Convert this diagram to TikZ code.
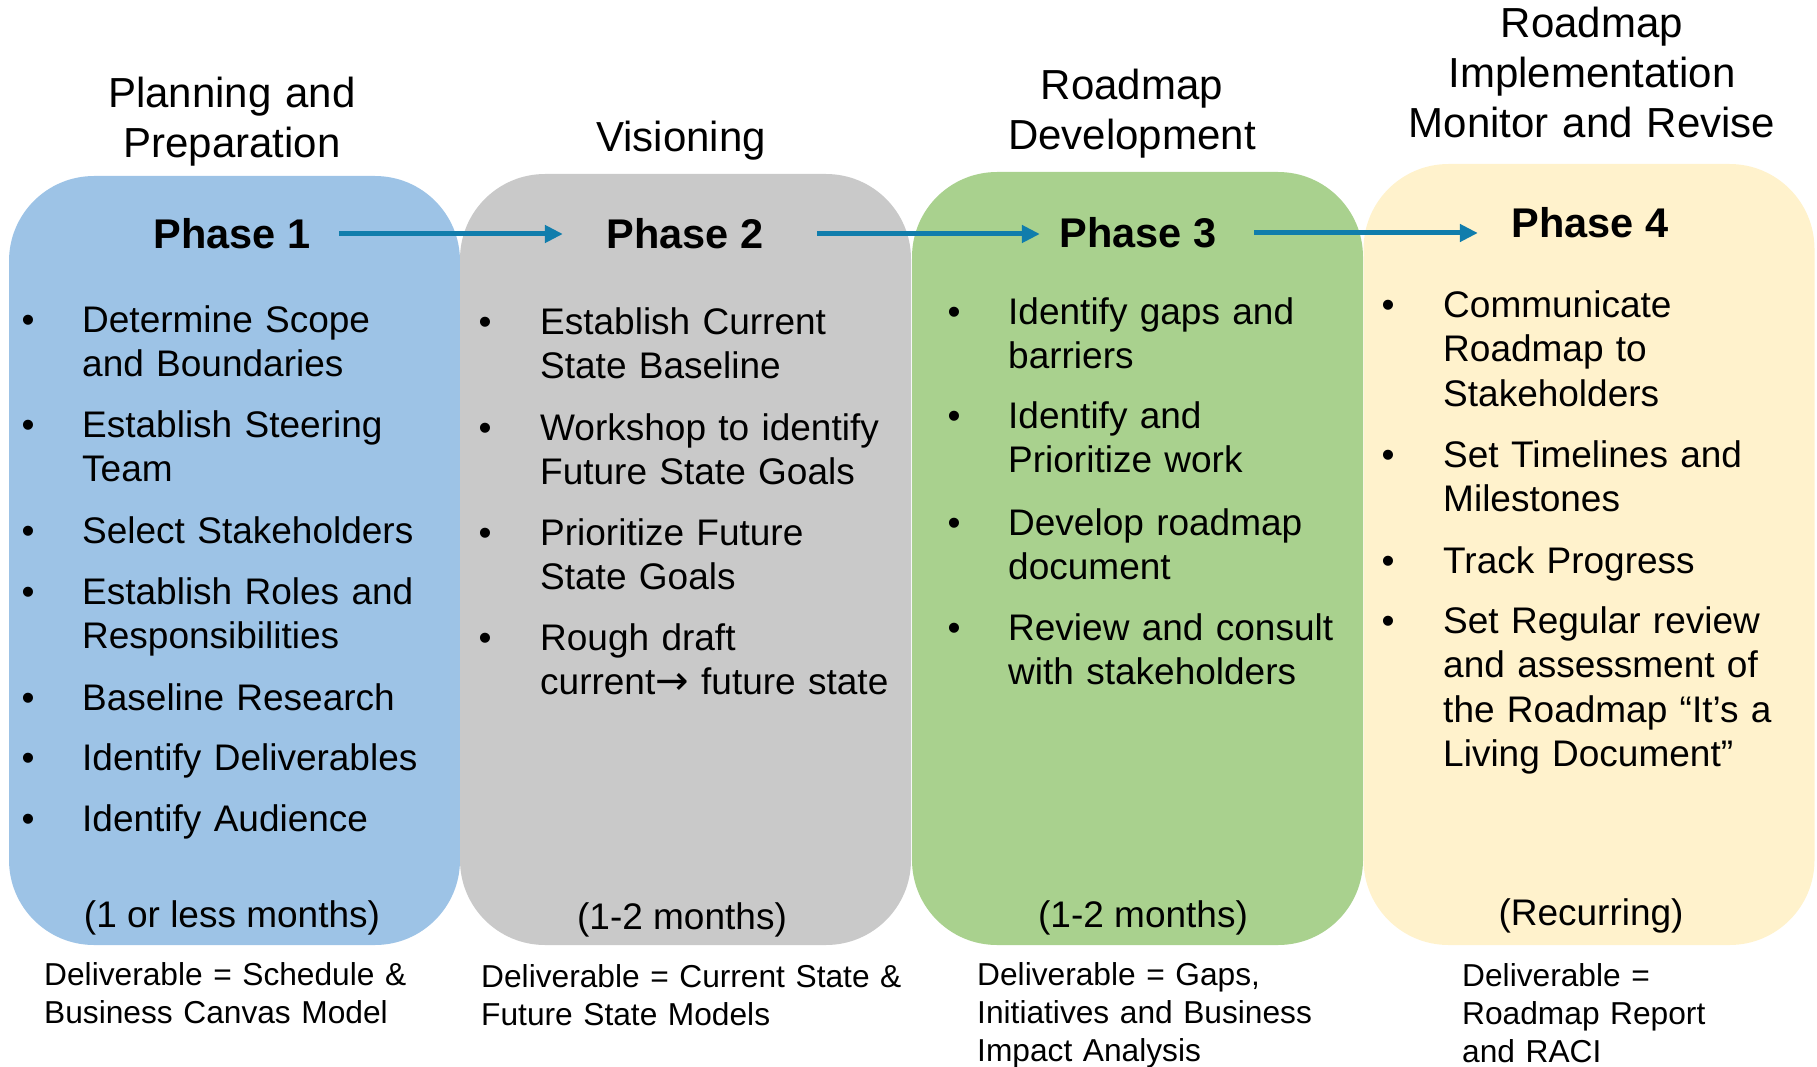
\documentclass[tikz,border=0pt]{standalone}
\usepackage{fontspec}
\setmainfont{Liberation Sans}
\newfontfamily\arrowfont{DejaVu Sans}
\usepackage{xcolor}
\usetikzlibrary{arrows.meta}

\definecolor{boxblue}{HTML}{9DC3E6}
\definecolor{boxgrey}{HTML}{C9C9C9}
\definecolor{boxgreen}{HTML}{A9D18E}
\definecolor{boxyellow}{HTML}{FFF2CC}
\definecolor{arrowblue}{HTML}{107DAC}

\begin{document}
\begin{tikzpicture}[x=1pt, y=-1pt,
        pbox/.style={rectangle, rounded corners=85pt, minimum width=451pt, inner sep=0pt},
        ttl/.style={anchor=base, text width=440pt, align=center, inner sep=0pt, font=\fontsize{42}{50}\selectfont},
        phase/.style={inner sep=0pt, font=\fontsize{41.5}{50}\selectfont\bfseries},
        bul/.style={anchor=base, inner sep=0pt, font=\fontsize{37}{44.6}\selectfont},
        pitem/.style={anchor=base west, text width=380pt, align=left, inner sep=0pt, font=\fontsize{37}{44.6}\selectfont},
        dur/.style={anchor=base, inner sep=0pt, font=\fontsize{37}{44.6}\selectfont},
        deliv/.style={anchor=base west, text width=480pt, align=left, inner sep=0pt, font=\fontsize{31.7}{38}\selectfont},
        flow/.style={arrowblue, line width=5pt, -{Triangle[length=18pt, width=17pt]}}]
        \useasboundingbox (0,0) rectangle (1817,1067);
        %boxes
        \node[pbox, fill=boxblue, minimum height=769pt] (box1) at (234.5,560.5) {};
        \node[pbox, fill=boxgrey, minimum height=771pt] (box2) at (685.5,559.5) {};
        \node[pbox, fill=boxgreen, minimum height=773pt] (box3) at (1137.5,558.5) {};
        \node[pbox, fill=boxyellow, minimum height=781pt] (box4) at (1589,554.5) {};
        %titles
        \node[ttl] (ttl1) at (232,108) {Planning and\\Preparation};
        \node[ttl] (ttl2) at (681,152) {Visioning};
        \node[ttl] (ttl3) at (1132,100) {Roadmap\\Development};
        \node[ttl] (ttl4) at (1592,38) {Roadmap\\Implementation\\Monitor and Revise};
        %phases
        \node[phase] (p1) at (232,234) {Phase 1};
        \node[phase] (p2) at (685,234) {Phase 2};
        \node[phase] (p3) at (1138,233) {Phase 3};
        \node[phase] (p4) at (1590,222.5) {Phase 4};
        %phase 1 list
        \foreach \y/\t [count=\i] in {332/{Determine Scope\\and Boundaries}, 437/{Establish Steering\\Team},
            543/{Select Stakeholders}, 604/{Establish Roles and\\Responsibilities}, 710/{Baseline Research},
            770/{Identify Deliverables}, 831/{Identify Audience}}{
            \node[bul] (b1\i) at (28,\y) {\textbullet};
            \node[pitem] (t1\i) at (82,\y) {\t};
        }
        %phase 2 list
        \foreach \y/\t [count=\i] in {334/{Establish Current\\State Baseline}, 440/{Workshop to identify\\Future State Goals},
            545/{Prioritize Future\\State Goals}, 650/{Rough draft\\current{\arrowfont\fontsize{40}{44.6}\selectfont→} future state}}{
            \node[bul] (b2\i) at (485,\y) {\textbullet};
            \node[pitem] (t2\i) at (540,\y) {\t};
        }
        %phase 3 list
        \foreach \y/\t [count=\i] in {324/{Identify gaps and\\barriers}, 428/{Identify and\\Prioritize work},
            535/{Develop roadmap\\document}, 640/{Review and consult\\with stakeholders}}{
            \node[bul] (b3\i) at (954,\y) {\textbullet};
            \node[pitem] (t3\i) at (1008,\y) {\t};
        }
        %phase 4 list
        \foreach \y/\t [count=\i] in {317/{Communicate\\Roadmap to\\Stakeholders}, 467/{Set Timelines and\\Milestones},
            573/{Track Progress}, 633/{Set Regular review\\and assessment of\\the Roadmap “It’s a\\Living Document”}}{
            \node[bul] (b4\i) at (1388,\y) {\textbullet};
            \node[pitem] (t4\i) at (1443,\y) {\t};
        }
        %durations
        \node[dur] (d1) at (232,927) {(1 or less months)};
        \node[dur] (d2) at (682,929) {(1-2 months)};
        \node[dur] (d3) at (1143,927) {(1-2 months)};
        \node[dur] (d4) at (1591,925) {(Recurring)};
        %deliverables
        \node[deliv] (dl1) at (44,985) {Deliverable = Schedule \&\\Business Canvas Model};
        \node[deliv] (dl2) at (481,987) {Deliverable = Current State \&\\Future State Models};
        \node[deliv] (dl3) at (977,985) {Deliverable = Gaps,\\Initiatives and Business\\Impact Analysis};
        \node[deliv] (dl4) at (1462,986) {Deliverable =\\Roadmap Report\\and RACI};
        %arrows
        \draw[flow, shorten <=28.5pt, shorten >=43.5pt] (p1.east) -- (p1.east -| p2.west);
        \draw[flow, shorten <=53.5pt, shorten >=19.5pt] (p2.east) -- (p2.east -| p3.west);
        \draw[flow, shorten <=37.5pt, shorten >=33.5pt] (p3.east) -- (p3.east -| p4.west);
\end{tikzpicture}
\end{document}
